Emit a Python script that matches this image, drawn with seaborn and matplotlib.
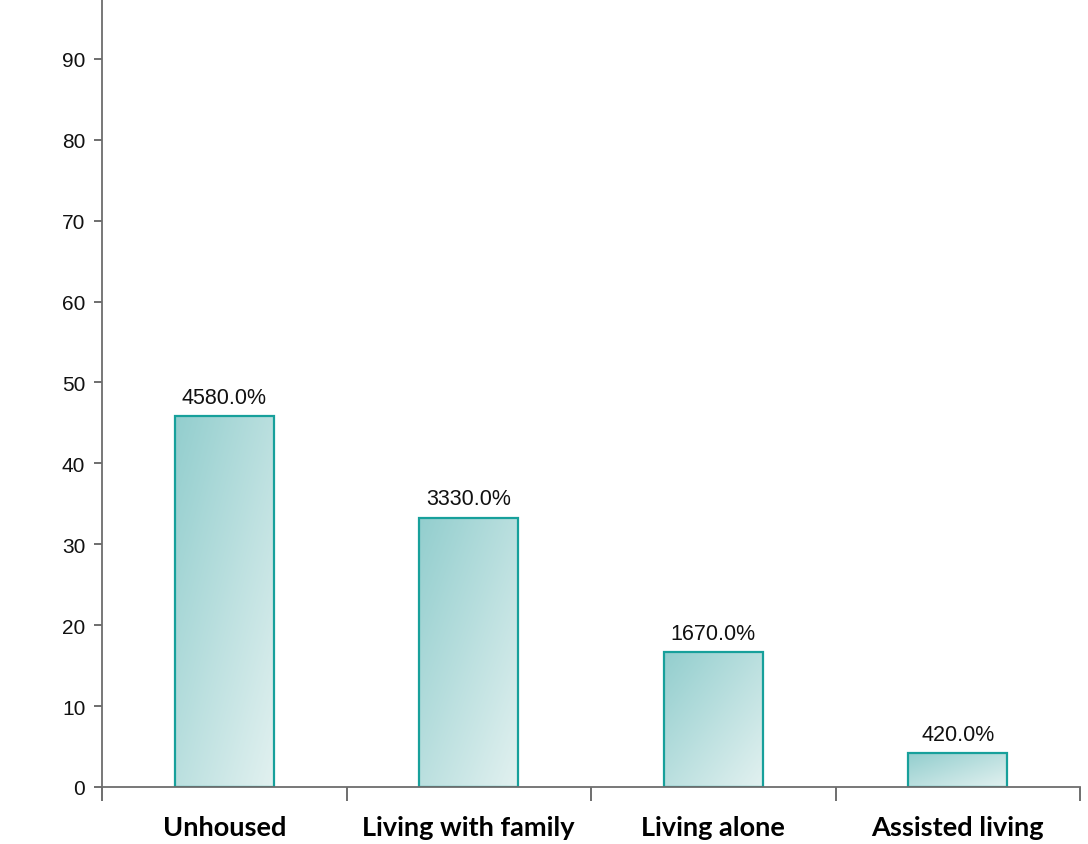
import numpy as np
import pandas as pd
import matplotlib
matplotlib.use("Agg")
import matplotlib.pyplot as plt
import seaborn as sns
from matplotlib.colors import LinearSegmentedColormap

categories = ["Unhoused", "Living with family", "Living alone", "Assisted living"]
values = [45.8, 33.3, 16.7, 4.2]
y_ticks = [0, 10, 20, 30, 40, 50, 60, 70, 80, 90]

sns.set_style("white")
plt.rcParams['font.family'] = ['Liberation Sans', 'DejaVu Sans']

df = pd.DataFrame({"category": categories, "value": values})

fig = plt.figure(figsize=(10.88, 8.45), dpi=100)
ax = fig.add_axes([102/1088, 57/845, (1080-102)/1088, 788/845])

sns.barplot(data=df, x="category", y="value", ax=ax, width=0.405,
            color="#a8d8d6", edgecolor="#17a09b", linewidth=1.6)

cmap = LinearSegmentedColormap.from_list("g", ["#93cece", "#e2f1f0"])
xx, yy = np.meshgrid(np.linspace(0, 1, 64), np.linspace(0, 1, 64))
grad = (xx + yy) / 2.0

for p in ax.patches:
    x0, y0 = p.get_x(), p.get_y()
    w, h = p.get_width(), p.get_height()
    im = ax.imshow(grad, cmap=cmap, extent=[x0, x0 + w, y0, y0 + h],
                   origin="upper", aspect="auto", interpolation="bicubic", zorder=p.get_zorder() + 0.1)
    im.set_clip_path(p)
    p.set_facecolor("none")
    p.set_zorder(p.get_zorder() + 0.2)

for p, v in zip(ax.patches, values):
    ax.annotate(f"{v*100:.1f}%", (p.get_x() + p.get_width() / 2, p.get_height()),
                xytext=(0, 6), textcoords="offset points", ha="center", va="bottom",
                fontsize=15.5, color="#111111")

ax.set_xlim(-0.5, len(categories) - 0.5)
ax.set_ylim(0, 97.4)
ax.set_yticks(y_ticks)
ax.set_xlabel("")
ax.set_ylabel("")

ax.set_xticks(range(len(categories)))
ax.set_xticklabels(categories, fontsize=19.5, fontweight="bold", family=["Lato", "DejaVu Sans"])
ax.set_xticks(np.arange(-0.5, len(categories)), minor=True)
ax.tick_params(axis="x", which="major", length=0, pad=20, colors="#000000")
ax.tick_params(axis="x", which="minor", bottom=True, length=10, width=1.2, direction="out", color="#555555")
ax.tick_params(axis="y", left=True, length=6, width=1.2, direction="out", color="#555555", labelsize=15, pad=6, labelcolor="#111111")

for s in ["top", "right"]:
    ax.spines[s].set_visible(False)
for s in ["left", "bottom"]:
    ax.spines[s].set_color("#6d6d6d")
    ax.spines[s].set_linewidth(1.3)

fig.savefig("out.png", dpi=100)
